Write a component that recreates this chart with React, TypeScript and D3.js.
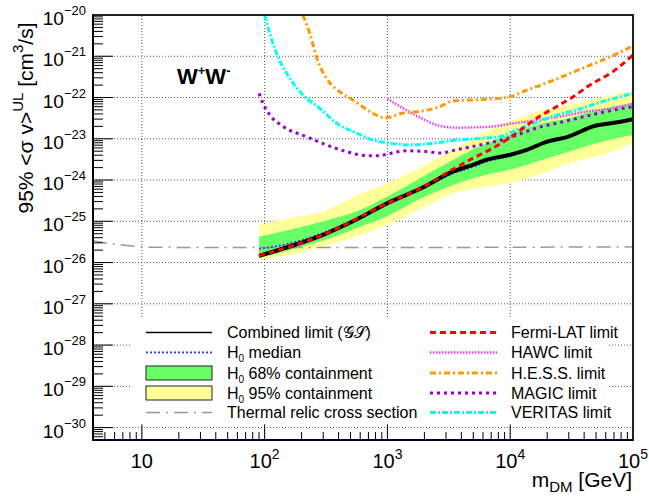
import React from 'react'
import * as d3 from 'd3'

// ---- data (mass in GeV, <sigma v> in cm^3/s) ----
const combinedMass = [90, 160, 300, 560, 1000, 1900, 3400, 5000, 6400, 10000, 13600, 20000, 29000, 50000, 70000, 100000]
const combinedSv = [1.45e-26, 2.45e-26, 4.7e-26, 1.1e-25, 2.75e-25, 6.4e-25, 1.6e-24, 2.35e-24, 3.1e-24, 4.1e-24, 5.4e-24, 8.5e-24, 1.1e-23, 2.1e-23, 2.45e-23, 3.0e-23]
const medianSv = [2.15e-26, 2.9e-26, 5.2e-26, 1.15e-25, 2.7e-25, 6.0e-25, 1.45e-24, 2.1e-24, 2.8e-24, 3.8e-24, 5.1e-24, 8.2e-24, 1.08e-23, 2.05e-23, 2.45e-23, 3.0e-23]

const bandMass = [90, 160, 300, 560, 1000, 1850, 3430, 6400, 9900, 18500, 30600, 50500, 100000]
const yellowHi = [8.1e-26, 1.2e-25, 1.74e-25, 4.2e-25, 8.4e-25, 2.0e-24, 5.4e-24, 1.5e-23, 2.6e-23, 5.0e-23, 6.6e-23, 9.5e-23, 1.45e-22]
const greenHi = [4.2e-26, 6.2e-26, 1.0e-25, 1.74e-25, 4.0e-25, 1.12e-24, 3.1e-24, 7.8e-24, 1.25e-23, 2.4e-23, 3.2e-23, 5.0e-23, 7.2e-23]
const greenLo = [1.29e-26, 2.0e-26, 3.4e-26, 6.8e-26, 1.32e-25, 3.5e-25, 7.6e-25, 1.35e-24, 1.78e-24, 3.1e-24, 4.9e-24, 7.8e-24, 1.25e-23]
const yellowLo = [1.17e-26, 1.55e-26, 2.45e-26, 4.3e-26, 8.2e-26, 2.0e-25, 4.8e-25, 6.9e-25, 8.5e-25, 1.48e-24, 2.6e-24, 3.7e-24, 7.8e-24]

const fermiMass = [90, 300, 1000, 1900, 3400, 5000, 6800, 9300, 12700, 17400, 23800, 32600, 44600, 69000, 100000]
const fermiSv = [1.48e-26, 4.7e-26, 2.75e-25, 6.5e-25, 1.8e-24, 3.4e-24, 5.4e-24, 9.3e-24, 1.8e-23, 3.5e-23, 6.0e-23, 1.05e-22, 2.0e-22, 4.3e-22, 1.07e-21]

const hawcMass = [1000, 1420, 1950, 2670, 3650, 6800, 10000, 16000, 27000, 42000, 61000, 100000]
const hawcSv = [9.3e-23, 5.0e-23, 3.0e-23, 2.05e-23, 1.86e-23, 1.95e-23, 2.3e-23, 2.8e-23, 3.55e-23, 4.6e-23, 5.2e-23, 7.2e-23]

const hessMass = [205, 233, 272, 318, 408, 525, 718, 950, 1340, 1830, 2670, 3430, 4990, 7240, 10000, 13600, 19800, 28800, 41700, 61000, 97000]
const hessSv = [1.0e-20, 3.6e-21, 7.4e-22, 2.95e-22, 1.38e-22, 8.7e-23, 4.6e-23, 3.2e-23, 4.2e-23, 4.6e-23, 6.0e-23, 8.3e-23, 8.7e-23, 9.3e-23, 1.05e-22, 1.5e-22, 2.25e-22, 3.55e-22, 5.6e-22, 8.9e-22, 1.7e-21]

const magicMass = [90, 97, 110, 141, 219, 318, 463, 675, 865, 1010, 1430, 2080, 2670, 3650, 5650, 9300, 16200, 27000, 42000, 61000, 100000]
const magicSv = [1.26e-22, 7.2e-23, 3.8e-23, 2.0e-23, 1.12e-23, 7.1e-24, 4.9e-24, 3.9e-24, 3.9e-24, 4.3e-24, 5.1e-24, 4.9e-24, 4.5e-24, 5.4e-24, 7.1e-24, 1.0e-23, 1.8e-23, 2.6e-23, 3.55e-23, 4.6e-23, 6.0e-23]

const veritasMass = [100, 110, 132, 160, 205, 281, 384, 558, 764, 1045, 1520, 2350, 3650, 5650, 8200, 10000, 14500, 22400, 34700, 53700, 100000]
const veritasSv = [1.0e-20, 3.6e-21, 8.1e-22, 2.95e-22, 1.15e-22, 5.5e-23, 2.4e-23, 1.38e-23, 9.3e-24, 7.8e-24, 7.1e-24, 7.8e-24, 9.3e-24, 1.02e-23, 1.12e-23, 1.4e-23, 2.2e-23, 3.5e-23, 5.0e-23, 7.6e-23, 1.26e-22]

const thermalMass = [4, 5, 7.5, 12, 100, 1000, 10000, 100000]
const thermalSv = [3.4e-26, 3.0e-26, 2.6e-26, 2.35e-26, 2.3e-26, 2.3e-26, 2.35e-26, 2.4e-26]

const xMajor = [10, 100, 1000, 10000, 100000]
const xLabelExp = [1, 2, 3, 4, 5]
const yExp = [-20, -21, -22, -23, -24, -25, -26, -27, -28, -29, -30]

const W = 649
const H = 496
const FONT = '"Liberation Sans", Arial, Helvetica, sans-serif'

const x = d3.scaleLog().domain([4, 1e5]).range([93, 633])
const y = d3.scaleLog().domain([5e-31, 1e-20]).range([440, 15])

const zip = (m: number[], v: number[]) => m.map((mm, i) => [mm, v[i]] as [number, number])
const line = d3.line<[number, number]>().x(d => x(d[0])).y(d => y(d[1])).curve(d3.curveMonotoneX)
const band = (m: number[], lo: number[], hi: number[]) =>
  d3.area<number>().x(d => x(m[d])).y0(d => y(lo[d])).y1(d => y(hi[d])).curve(d3.curveMonotoneX)(m.map((_, i) => i)) || ''

const styles: Record<string, any> = {
  combined: { stroke: '#000', strokeWidth: 4 },
  median: { stroke: '#4040ff', strokeWidth: 2, strokeDasharray: '2,2' },
  fermi: { stroke: '#ff0000', strokeWidth: 3, strokeDasharray: '6,4' },
  hawc: { stroke: '#ff33ff', strokeWidth: 2.5, strokeDasharray: '1.5,1.5' },
  hess: { stroke: '#ff9900', strokeWidth: 3, strokeDasharray: '6,3,2,3' },
  magic: { stroke: '#9900cc', strokeWidth: 3, strokeDasharray: '3,4' },
  veritas: { stroke: '#00ffff', strokeWidth: 3, strokeDasharray: '6,2,2,2' },
  thermal: { stroke: '#999', strokeWidth: 1.5, strokeDasharray: '14,6,2,6' },
}

export default function App() {
  const [x0, x1] = x.range()
  const [y0, y1] = y.range()

  const xMinor: number[] = []
  for (let d = 0; d <= 4; d++) for (let k = 2; k <= 9; k++) { const v = k * 10 ** d; if (v >= 4 && v <= 1e5) xMinor.push(v) }
  const yMinor: number[] = []
  for (let d = -31; d <= -21; d++) for (let k = 2; k <= 9; k++) { const v = k * 10 ** d; if (v >= 5e-31 && v <= 1e-20) yMinor.push(v) }

  const curves = [
    { key: 'thermal', m: thermalMass, v: thermalSv },
    { key: 'median', m: combinedMass, v: medianSv },
    { key: 'combined', m: combinedMass, v: combinedSv },
    { key: 'magic', m: magicMass, v: magicSv },
    { key: 'hawc', m: hawcMass, v: hawcSv },
    { key: 'veritas', m: veritasMass, v: veritasSv },
    { key: 'hess', m: hessMass, v: hessSv },
    { key: 'fermi', m: fermiMass, v: fermiSv },
  ]

  const legLeft = [
    { type: 'line', key: 'combined', label: <>Combined limit (𝒢𝒮)</> },
    { type: 'line', key: 'median', label: <>H<tspan dy={4} fontSize={10}>0</tspan><tspan dy={-4}> median</tspan></> },
    { type: 'box', fill: '#66ff66', label: <>H<tspan dy={4} fontSize={10}>0</tspan><tspan dy={-4}> 68% containment</tspan></> },
    { type: 'box', fill: '#ffff99', label: <>H<tspan dy={4} fontSize={10}>0</tspan><tspan dy={-4}> 95% containment</tspan></> },
    { type: 'line', key: 'thermal', label: <>Thermal relic cross section</> },
  ]
  const legRight = [
    { key: 'fermi', label: 'Fermi-LAT limit' },
    { key: 'hawc', label: 'HAWC limit' },
    { key: 'hess', label: 'H.E.S.S. limit' },
    { key: 'magic', label: 'MAGIC limit' },
    { key: 'veritas', label: 'VERITAS limit' },
  ]
  const rowY = [332.5, 352.5, 373, 393, 412.5]

  return (
    <svg width={W} height={H} style={{ position: 'absolute', left: 0, top: 0, background: '#fff' }} fontFamily={FONT}>
      <defs>
        <clipPath id="plot"><rect x={x0} y={y1} width={x1 - x0} height={y0 - y1} /></clipPath>
      </defs>
      <rect x={0} y={0} width={W} height={H} fill="#fff" />

      {/* grid */}
      <g stroke="#555" strokeWidth={1} strokeDasharray="1,2">
        {xMajor.slice(0, 4).map(v => <line key={v} x1={x(v)} x2={x(v)} y1={y0} y2={y1} />)}
        {yExp.slice(1).map(e => <line key={e} x1={x0} x2={x1} y1={y(10 ** e)} y2={y(10 ** e)} />)}
      </g>

      {/* bands and curves */}
      <g clipPath="url(#plot)">
        <path d={band(bandMass, yellowLo, yellowHi)} fill="#ffff99" />
        <path d={band(bandMass, greenLo, greenHi)} fill="#66ff66" />
        {curves.map(c => (
          <path key={c.key} d={line(zip(c.m, c.v)) || ''} fill="none" {...styles[c.key]} />
        ))}
      </g>

      {/* legend */}
      <rect x={131} y={318} width={477} height={106} fill="#fff" />
      <g fontSize={16}>
        {legLeft.map((l, i) => (
          <g key={i}>
            {l.type === 'line'
              ? <line x1={146} x2={212} y1={rowY[i]} y2={rowY[i]} {...styles[l.key as string]} strokeWidth={l.key === 'combined' ? 1.5 : styles[l.key as string].strokeWidth} />
              : <rect x={146} y={rowY[i] - 7} width={66} height={14} fill={l.fill} stroke="#222" strokeWidth={1} />}
            <text x={227} y={rowY[i] + 5.5}>{l.label}</text>
          </g>
        ))}
        {legRight.map((l, i) => (
          <g key={l.key}>
            <line x1={430} x2={497} y1={rowY[i]} y2={rowY[i]} {...styles[l.key]} />
            <text x={511} y={rowY[i] + 5.5}>{l.label}</text>
          </g>
        ))}
      </g>

      {/* ticks */}
      <g stroke="#000" strokeWidth={1}>
        {yExp.map(e => <line key={e} x1={x0} x2={x0 + 20} y1={y(10 ** e)} y2={y(10 ** e)} />)}
        {yMinor.map(v => <line key={v} x1={x0} x2={x0 + 10} y1={y(v)} y2={y(v)} />)}
        {xMajor.map(v => <line key={v} x1={x(v)} x2={x(v)} y1={y0} y2={y0 - 15} />)}
        {xMinor.map(v => <line key={v} x1={x(v)} x2={x(v)} y1={y0} y2={y0 - 8} />)}
      </g>

      {/* frame */}
      <rect x={x0} y={y1} width={x1 - x0} height={y0 - y1} fill="none" stroke="#222" strokeWidth={2} />
      <line x1={x0} x2={x0} y1={y1} y2={y0} stroke="#000" strokeWidth={2} />
      <line x1={x0} x2={x1} y1={y0} y2={y0} stroke="#000033" strokeWidth={2} />

      {/* y tick labels */}
      <g fontSize={19} textAnchor="end">
        {yExp.map(e => (
          <text key={e} x={86} y={y(10 ** e) + 10}>10<tspan dy={-10} fontSize={13}>{'\u2212' + Math.abs(e)}</tspan></text>
        ))}
      </g>

      {/* x tick labels */}
      <g fontSize={20} textAnchor="middle">
        {xMajor.map((v, i) => (
          <text key={v} x={x(v)} y={468}>10{xLabelExp[i] > 1 && <tspan dy={-9} fontSize={14}>{xLabelExp[i]}</tspan>}</text>
        ))}
      </g>

      {/* axis titles */}
      <text x={632} y={487} fontSize={21} textAnchor="end">m<tspan dy={5} fontSize={15}>DM</tspan><tspan dy={-5}> [GeV]</tspan></text>
      <text transform="translate(33,118) rotate(-90)" fontSize={21} textAnchor="middle">
        95% &lt;σ v&gt;<tspan dy={-10} fontSize={15}>UL</tspan><tspan dy={10}> [cm</tspan><tspan dy={-10} fontSize={15}>3</tspan><tspan dy={10}>/s]</tspan>
      </text>

      {/* channel */}
      <text x={177} y={84} fontSize={22} fontWeight="bold">W<tspan dy={-9} fontSize={13}>+</tspan><tspan dy={9}>W</tspan><tspan dy={-9} fontSize={13}>-</tspan></text>
    </svg>
  )
}
